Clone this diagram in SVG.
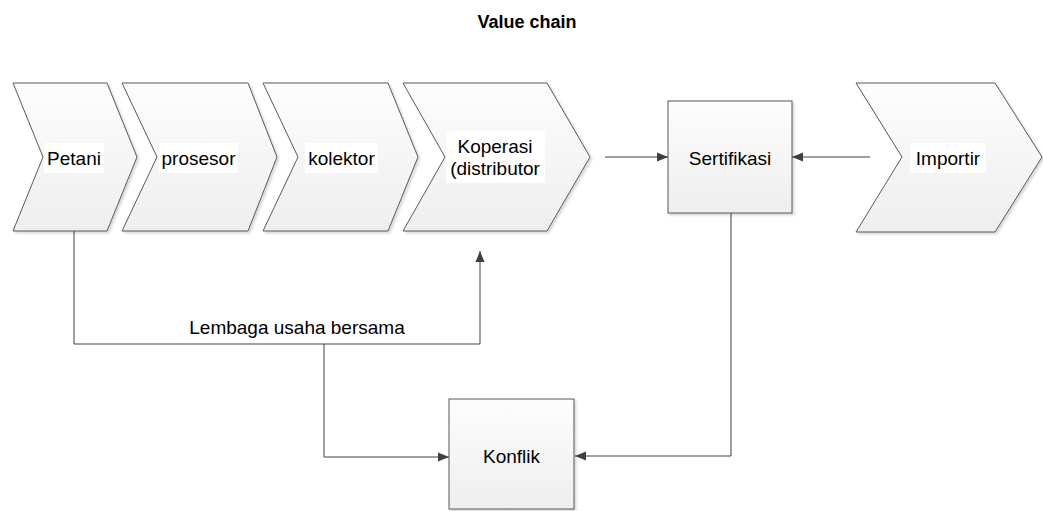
<svg xmlns="http://www.w3.org/2000/svg" width="1043" height="511" viewBox="0 0 1043 511">
<defs>
<linearGradient id="g" x1="0" y1="0" x2="0" y2="1">
<stop offset="0" stop-color="#fdfdfd"/>
<stop offset="1" stop-color="#eeeeee"/>
</linearGradient>
<filter id="sh" x="-10%" y="-10%" width="120%" height="120%">
<feDropShadow dx="2" dy="2" stdDeviation="1" flood-color="#000" flood-opacity="0.15"/>
</filter>
<marker id="ah" viewBox="0 0 11 10" refX="11" refY="5" markerWidth="11" markerHeight="10" markerUnits="userSpaceOnUse" orient="auto">
<path d="M0,0.5 L11,5 L0,9.5 Z" fill="#404040"/>
</marker>
<style>
.shape{fill:url(#g);stroke:#595959;stroke-width:1;filter:url(#sh)}
.lbl{font-family:"Liberation Sans",Arial,sans-serif;font-size:19px;fill:#000;text-anchor:middle}
.bg{fill:#fff}
.conn{fill:none;stroke:#404040;stroke-width:1}
.title{font-family:"Liberation Sans",Arial,sans-serif;font-size:18px;font-weight:bold;fill:#000;text-anchor:middle}
</style>
</defs>
<rect width="1043" height="511" fill="#fff"/>
<text class="title" x="527" y="28">Value chain</text>

<g id="connectors">
<path class="conn" d="M605,157 L668,157" marker-end="url(#ah)"/>
<path class="conn" d="M870,157 L792,157" marker-end="url(#ah)"/>
<path class="conn" d="M74,231 L74,344 L480,344 L480,251" marker-end="url(#ah)"/>
<path class="conn" d="M324,344 L324,457 L449,457" marker-end="url(#ah)"/>
<path class="conn" d="M731,213 L731,456 L575,456" marker-end="url(#ah)"/>
<text class="lbl" x="297" y="334">Lembaga usaha bersama</text>
</g>

<g id="petani">
<polygon class="shape" points="13,83 107,83 137,157 107,231 13,231 43,157"/>
<rect class="bg" x="44" y="143" width="60" height="30"/>
<text class="lbl" x="74" y="164.5">Petani</text>
</g>
<g id="prosesor">
<polygon class="shape" points="122,83 248,83 277,157 248,231 122,231 157,157"/>
<rect class="bg" x="159" y="143" width="79" height="30"/>
<text class="lbl" x="198.5" y="164.5">prosesor</text>
</g>
<g id="kolektor">
<polygon class="shape" points="263,83 388,83 418,157 388,231 263,231 298,157"/>
<rect class="bg" x="305" y="143" width="73" height="30"/>
<text class="lbl" x="341.5" y="164.5">kolektor</text>
</g>
<g id="koperasi">
<polygon class="shape" points="403,83 547,83 590,157 547,231 403,231 445,157"/>
<rect class="bg" x="446" y="131" width="99" height="52"/>
<text class="lbl" x="495" y="153">Koperasi</text>
<text class="lbl" x="495" y="175">(distributor</text>
</g>
<g id="sertifikasi">
<rect class="shape" x="668" y="101" width="124" height="112"/>
<text class="lbl" x="730" y="164.5">Sertifikasi</text>
</g>
<g id="importir">
<polygon class="shape" points="856,83 995,83 1042,157 995,232 856,232 902,157"/>
<rect class="bg" x="910" y="143" width="76" height="30"/>
<text class="lbl" x="948" y="164.5">Importir</text>
</g>
<g id="konflik">
<rect class="shape" x="449" y="399" width="125" height="110"/>
<text class="lbl" x="511.5" y="463">Konflik</text>
</g>
</svg>
